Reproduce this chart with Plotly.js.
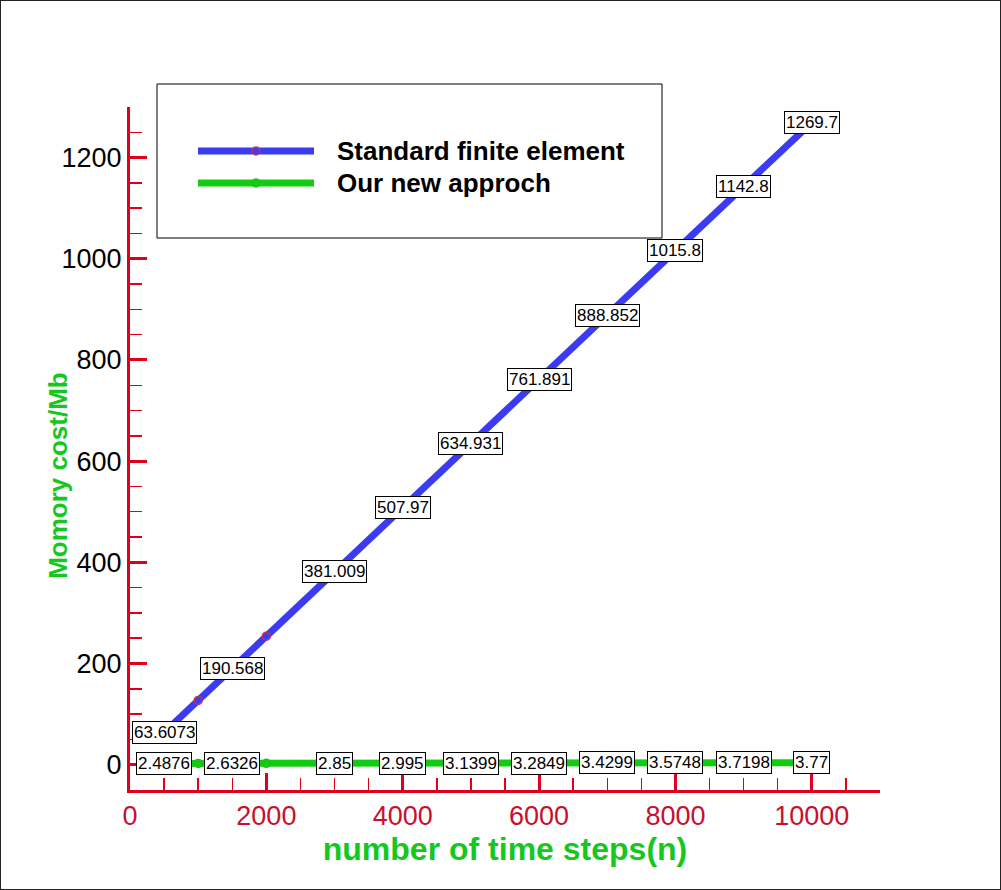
<!DOCTYPE html>
<html>
<head>
<meta charset="utf-8">
<script src="https://cdn.plot.ly/plotly-3.0.1.min.js"></script>
<style>
  body { margin: 0; background: #fff; }
  #chart { width: 1001px; height: 890px; }
  #frame {
    position: absolute; left: 0; top: 0; width: 1001px; height: 890px;
    box-sizing: border-box; border: 1px solid #222; pointer-events: none;
  }
</style>
</head>
<body>
<div id="chart"></div>
<div id="frame"></div>
<script>
// time steps and memory (Mb)
const steps = [500, 1000, 1500, 2000, 3000, 4000, 5000, 6000, 7000, 8000, 9000, 10000];
const standardMem = [63.6073, 126.96, 190.568, 253.93, 381.009, 507.97, 634.931, 761.891, 888.852, 1015.8, 1142.8, 1269.7];
const newMem = [2.4876, 2.56, 2.6326, 2.705, 2.85, 2.995, 3.1399, 3.2849, 3.4299, 3.5748, 3.7198, 3.77];
// which points carry a value box
const labelled = [true, false, true, false, true, true, true, true, true, true, true, true];

const seriesNames = ['Standard finite element', 'Our new approch'];

const axisRed = '#e0001e';
const tickRed = '#c8102e';
const titleGreen = '#14c81e';
const blue = '#3b3bf2';
const green = '#12cc12';
const font = 'Liberation Sans, Arial, sans-serif';

const data = [
    {
        x: steps, y: standardMem, name: seriesNames[0], type: 'scatter', mode: 'lines+markers',
        line: { color: blue, width: 7 },
        marker: { symbol: 'circle-open', size: 8, color: '#c0305a', line: { width: 1.5 } },
        showlegend: false, hoverinfo: 'skip'
    },
    {
        x: steps, y: newMem, name: seriesNames[1], type: 'scatter', mode: 'lines+markers',
        line: { color: green, width: 7 },
        marker: { symbol: 'circle-open', size: 8, color: '#1cbf1c', line: { width: 1.5 } },
        showlegend: false, hoverinfo: 'skip'
    }
];

// value boxes on the points
function valueBoxes(ys) {
    const out = [];
    steps.forEach((s, i) => {
        if (!labelled[i]) return;
        out.push({
            x: s, y: ys[i], xref: 'x', yref: 'y', text: String(ys[i]),
            showarrow: false, xanchor: 'center', yanchor: 'middle',
            bgcolor: '#fff', bordercolor: '#000', borderwidth: 1, borderpad: 1,
            font: { family: font, size: 17, color: '#000' }
        });
    });
    return out;
}

// hand drawn legend (box, line samples, markers), offsets in px from plot top-left
const px = (o) => Object.assign({ xref: 'paper', yref: 'paper', xsizemode: 'pixel', ysizemode: 'pixel', xanchor: 0, yanchor: 1 }, o);
const legendShapes = [
    px({ type: 'rect', x0: 27, x1: 532, y0: 23, y1: -131, line: { color: '#000', width: 1 }, fillcolor: '#fff', layer: 'below' }),
    px({ type: 'line', x0: 68, x1: 184, y0: -44, y1: -44, line: { color: blue, width: 7 } }),
    px({ type: 'line', x0: 68, x1: 184, y0: -76, y1: -76, line: { color: green, width: 7 } }),
    px({ type: 'circle', x0: 122, x1: 130, y0: -40, y1: -48, line: { color: '#c0305a', width: 1.5 } }),
    px({ type: 'circle', x0: 122, x1: 130, y0: -72, y1: -80, line: { color: '#1cbf1c', width: 1.5 } })
];
const legendText = seriesNames.map((name, i) => ({
    xref: 'paper', yref: 'paper', x: 0, y: 1, xshift: 205, yshift: i === 0 ? -44 : -76,
    xanchor: 'left', yanchor: 'middle', showarrow: false, text: '<b>' + name + '</b>',
    font: { family: font, size: 26, color: '#000' }
}));

const yTitle = {
    xref: 'paper', yref: 'paper', x: 0, y: 0.46, xshift: -72, xanchor: 'center', yanchor: 'middle',
    textangle: -90, showarrow: false, text: '<b>Momory cost/Mb</b>',
    font: { family: font, size: 26, color: titleGreen }
};

const layout = {
    width: 1001, height: 890,
    margin: { l: 130, r: 121, t: 107, b: 100 },
    paper_bgcolor: '#fff', plot_bgcolor: '#fff',
    showlegend: false,
    font: { family: font },
    xaxis: {
        range: [0, 11000], tick0: 0, dtick: 2000, tickformat: 'd',
        showgrid: false, zeroline: false,
        showline: true, linecolor: axisRed, linewidth: 3,
        ticks: 'inside', ticklen: 17, tickwidth: 3, tickcolor: axisRed,
        minor: { dtick: 500, ticks: 'inside', ticklen: 12, tickwidth: 1.5, tickcolor: axisRed },
        tickfont: { family: font, size: 27, color: tickRed },
        title: { text: '<b>number of time steps(n)</b>', font: { family: font, size: 32, color: titleGreen }, standoff: 2 }
    },
    yaxis: {
        range: [-50, 1300], tick0: 0, dtick: 200, tickformat: 'd',
        showgrid: false, zeroline: false,
        showline: true, linecolor: axisRed, linewidth: 3,
        ticks: 'inside', ticklen: 17, tickwidth: 3, tickcolor: axisRed,
        minor: { dtick: 50, ticks: 'inside', ticklen: 12, tickwidth: 1.5, tickcolor: axisRed },
        tickfont: { family: font, size: 27, color: '#000' }
    },
    shapes: legendShapes,
    annotations: valueBoxes(standardMem).concat(valueBoxes(newMem), legendText, [yTitle])
};

Plotly.newPlot('chart', data, layout, { staticPlot: true });
</script>
</body>
</html>
